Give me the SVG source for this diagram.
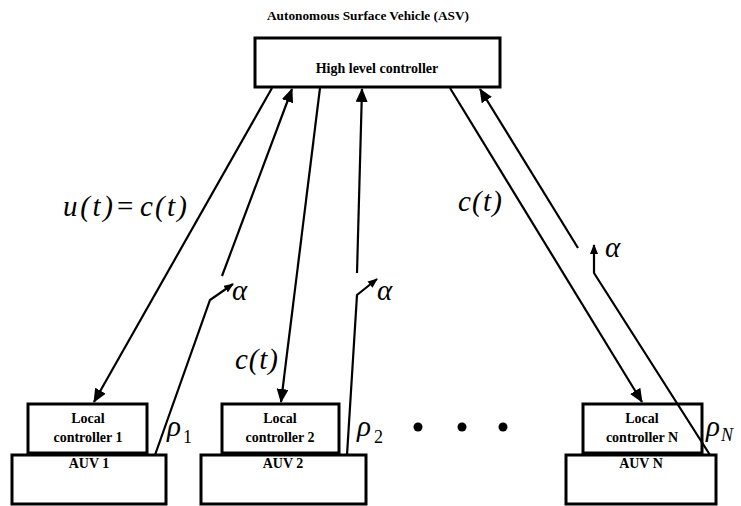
<svg xmlns="http://www.w3.org/2000/svg" width="741" height="506" viewBox="0 0 741 506">
<defs>
<style>
.box{fill:#fff;stroke:#000;stroke-width:3}
.lbl{font-family:"Liberation Serif",serif;font-weight:bold;font-size:14px;text-anchor:middle;fill:#000}
.math{font-family:"Liberation Serif",serif;font-style:italic;font-size:29px;fill:#000}
.sub{font-family:"Liberation Serif",serif;font-size:18px;fill:#000}
.ln{fill:none;stroke:#000;stroke-width:2.2}
</style>
<marker id="ah" markerUnits="userSpaceOnUse" markerWidth="14" markerHeight="12" refX="13" refY="6" orient="auto">
<path d="M0,0 L14,6 L0,12 Z" fill="#000"/>
</marker>
<marker id="ahs" markerUnits="userSpaceOnUse" markerWidth="10" markerHeight="8" refX="9" refY="4" orient="auto">
<path d="M0,0 L10,4 L0,8 Z" fill="#000"/>
</marker>
</defs>
<rect width="741" height="506" fill="#fff"/>
<text class="lbl" x="368" y="20" style="font-size:13.3px">Autonomous Surface Vehicle (ASV)</text>
<g id="hlc">
<rect class="box" x="255" y="38" width="245" height="49"/>
<text class="lbl" x="377" y="73">High level controller</text>
</g>
<g id="lc1">
<rect class="box" x="28" y="404" width="119" height="49"/>
<text class="lbl" x="88" y="423">Local</text>
<text class="lbl" x="88" y="442">controller 1</text>
</g>
<g id="auv1">
<rect class="box" x="12" y="455" width="154" height="49"/>
<text class="lbl" x="89" y="468">AUV 1</text>
</g>
<g id="lc2">
<rect class="box" x="222" y="404" width="117" height="49"/>
<text class="lbl" x="280" y="423">Local</text>
<text class="lbl" x="280" y="442">controller 2</text>
</g>
<g id="auv2">
<rect class="box" x="201" y="455" width="165" height="49"/>
<text class="lbl" x="283" y="468">AUV 2</text>
</g>
<g id="lcN">
<rect class="box" x="583" y="404" width="119" height="49"/>
<text class="lbl" x="642" y="423">Local</text>
<text class="lbl" x="642" y="442">controller N</text>
</g>
<g id="auvN">
<rect class="box" x="566" y="455" width="150" height="49"/>
<text class="lbl" x="641" y="468">AUV N</text>
</g>
<g id="connectors">
<line class="ln" x1="272" y1="88" x2="94" y2="402" marker-end="url(#ah)"/>
<line class="ln" x1="222" y1="276" x2="292" y2="89" marker-end="url(#ah)"/>
<polyline class="ln" points="155,455 210,300 233,284" marker-end="url(#ahs)"/>
<line class="ln" x1="320" y1="88" x2="281" y2="402" marker-end="url(#ah)"/>
<line class="ln" x1="357" y1="273" x2="362" y2="89" marker-end="url(#ah)"/>
<polyline class="ln" points="347,455 357,295 377,279" marker-end="url(#ahs)"/>
<line class="ln" x1="450" y1="88" x2="642" y2="402" marker-end="url(#ah)"/>
<line class="ln" x1="578" y1="248" x2="480" y2="89" marker-end="url(#ah)"/>
<polyline class="ln" points="710,455 594,273 594,245" marker-end="url(#ahs)"/>
</g>
<g id="labels">
<text class="math" x="63" y="216" textLength="50" lengthAdjust="spacing">u(t)</text>
<text class="math" x="117" y="216" style="font-style:normal">=</text>
<text class="math" x="140" y="216" textLength="47" lengthAdjust="spacing">c(t)</text>
<text class="math" x="458" y="211" textLength="44" lengthAdjust="spacing">c(t)</text>
<text class="math" x="235" y="369" textLength="43" lengthAdjust="spacing">c(t)</text>
<text class="math" x="232" y="300">α</text>
<text class="math" x="377" y="300">α</text>
<text class="math" x="605" y="257">α</text>
<text class="math" x="167" y="436">ρ</text><text class="sub" x="183" y="443">1</text>
<text class="math" x="357" y="436">ρ</text><text class="sub" x="374" y="443">2</text>
<text class="math" x="706" y="436">ρ</text><text class="sub" x="721" y="441" style="font-style:italic">N</text>
<circle cx="418" cy="427" r="4.5"/>
<circle cx="462" cy="427" r="4.5"/>
<circle cx="503" cy="427" r="4.5"/>
</g>
</svg>
